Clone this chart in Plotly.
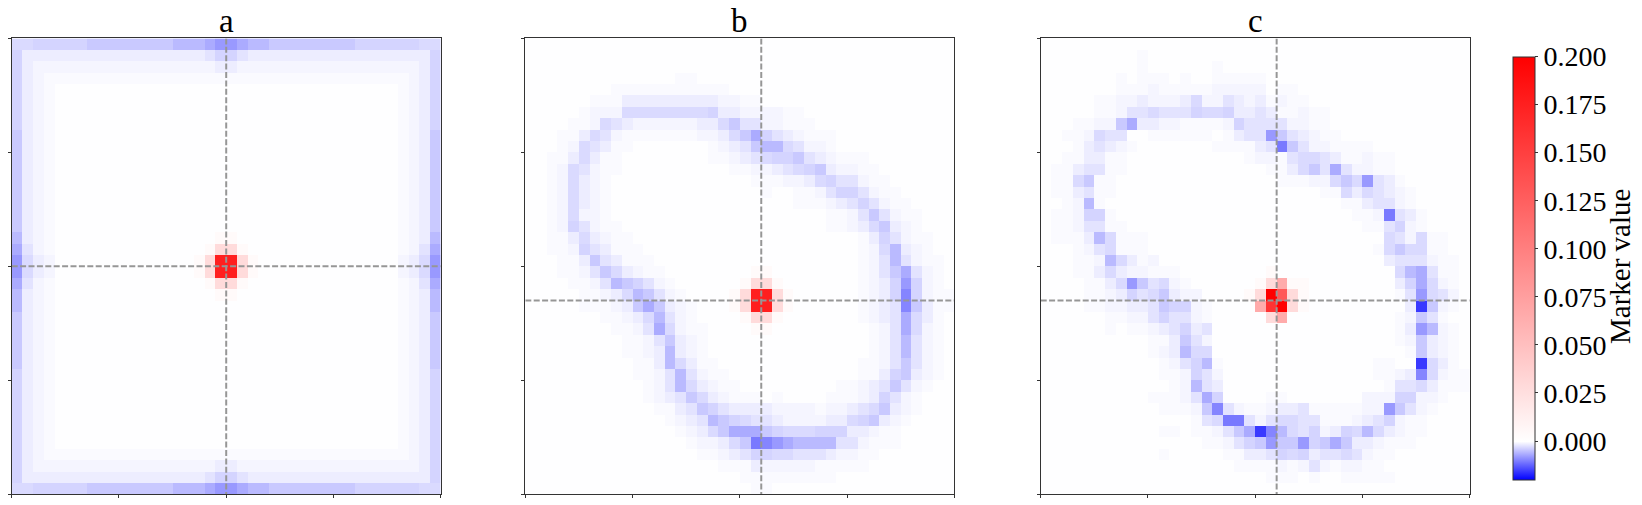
#!/usr/bin/env python

import plotly.graph_objects as go
from plotly.subplots import make_subplots

FONT = "Liberation Serif"
W, H = 1642, 505
N = 40

# marker value for each letter used in the grids below
LEVELS = {
    ".": -0.0001, "a": -0.0004, "b": -0.0008, "c": -0.0014, "d": -0.0022,
    "e": -0.0029, "f": -0.0034, "g": -0.0042, "h": -0.0054, "i": -0.0066,
    "j": -0.008, "k": -0.0096, "l": -0.0105, "m": -0.0155,
    "A": 0.004, "B": 0.028, "C": 0.066, "D": 0.13, "G": 0.16, "E": 0.176, "F": 0.2,
}

# one string per row, one letter per cell, spaces only group the columns by ten,
# missing cells at the end of a row are background
GRID_A = [
    "eefffffggg ggggghhhij jihhgggggg ggffffffee",
    "fccccccccc ccccccccdf fdcccccccc cccccccccf",
    "fcbbbbbbbb bbbbbbbbbc cbbbbbbbbb bbbbbbbbcf",
    "fcbaaaaaaa aaaaaaaaaa aaaaaaaaaa aaaaaaabcf",
    "fcba...... .......... .......... ......abcf",
    "fcba...... .......... .......... ......abcf",
    "fcba...... .......... .......... ......abcf",
    "fcba...... .......... .......... ......abcf",
    "gcba...... .......... .......... ......abcg",
    "gcba...... .......... .......... ......abcg",
    "gcba...... .......... .......... ......abcg",
    "gcba...... .......... .......... ......abcg",
    "gcba...... .......... .......... ......abcg",
    "gcba...... .......... .......... ......abcg",
    "gcba...... .......... .......... ......abcg",
    "gcba...... .......... .......... ......abcg",
    "gcba...... .......... .......... ......abcg",
    "hcba...... .........A A......... ......abch",
    "idba...... ........AB BA........ ......abdi",
    "jecb...... .......ABE EBA....... ......bcej",
    "jecb...... .......ABE EBA....... ......bcej",
    "idba...... ........AB BA........ ......abdi",
    "hcba...... .........A A......... ......abch",
    "hcba...... .......... .......... ......abch",
    "gcba...... .......... .......... ......abcg",
    "gcba...... .......... .......... ......abcg",
    "gcba...... .......... .......... ......abcg",
    "gcba...... .......... .......... ......abcg",
    "gcba...... .......... .......... ......abcg",
    "fcba...... .......... .......... ......abcf",
    "fcba...... .......... .......... ......abcf",
    "fcba...... .......... .......... ......abcf",
    "fcba...... .......... .......... ......abcf",
    "fcba...... .......... .......... ......abcf",
    "fcba...... .......... .......... ......abcf",
    "fcba...... .......... .......... ......abcf",
    "fcbaaaaaaa aaaaaaaaaa aaaaaaaaaa aaaaaaabcf",
    "fcbbbbbbbb bbbbbbbbbc cbbbbbbbbb bbbbbbbbcf",
    "fccccccccc ccccccccdf fdcccccccc cccccccccf",
    "eefffffggg ggggghhhij jihhgggggg ggffffffee",
]

GRID_B = [
    "",
    "",
    "",
    ".......... ....aa",
    "........aa aaaaaaaaa.",
    "......aaac ccccccccbb aa",
    ".....abbbe eeeeeeefcc bbbbaa",
    "....aabedc bbbbbbcceg ddbbaaa",
    "...aacedba aaaaaabbce gifdcbaaa",
    "...abedcaa .......abc dghhedbba",
    "..aacecaa. .......aab cdeffgdcba aa",
    "..abedbaa. .........a abbcdefgcb baa",
    "..abecba.. .......... .aaabbcefd dbaa",
    "..abecba.. .......... ..a..aabdf fdbaa",
    "..abecba.. .......... .....aaabc dfdbaa",
    "..abebba.. .......... ........aa bdgdbaa",
    "..abfdbaa. .......... ........aa bcegcba",
    "..aacecbaa .......... .......... .acfdbaa",
    "..aabfdcaa a......... .......... .abehcba",
    "...aacgdca aa........ .......... .abdhdbaa",
    "...aabdgec baa....... .AA....... .abdgidba",
    "....aabdhg fdba...... ABBA...... .abcfjfba",
    ".....aabce hgdba....A BEEBA..... .abcfkfbaa",
    ".....aaabc gigcba...A BEEBA..... .abcdkgcaa",
    ".......aab cehdba.... ABBA...... .abcdieca",
    "........aa bdiebaa... .AA....... ..abdieba",
    ".........a abdgcba... .......... ..abdhdba",
    ".........a abchcba... .......... ..abdhdba",
    ".......... aachecaa.. .......... .aabdgdba",
    ".......... aabdhdbaa. .......... .aacfgcba",
    ".......... .abdhecbaa .........a abcdgdba",
    ".......... .abcdgecba aa.a....aa abcfdba",
    ".......... ..aacdgfdc cccbbbbabb cdegcba",
    ".......... ...abcdhgf eddcbbbbcc efgcba",
    ".......... ....abcegi iigfeeefff ccbaa",
    ".......... .....abbce glkjihhhhd dbaaa",
    ".......... ......aabc dffeedddcb baa",
    ".......... ........aa acbbbbbaaa aa",
    ".......... .......... aaaaaaaaa",
    ".......... .......... .aa",
]

GRID_C = [
    "",
    ".........a",
    ".........a ......a",
    ".......a.a aa.a..aaaa a",
    ".......aaa baaaaabbbb b.aa",
    ".....aabbc bbbcebbdcb cabaa",
    ".....aabdd edddfeefcc dcaabaa",
    "...aabbgic cbbaaaabfd dddbbaa",
    "..aabedd.. aaaaaa.acd djgdcbaa",
    "...acdcba. ......aaaa cdlgdbbaaa a",
    "..aaccaa.. .........a bbadeedcaa baa",
    ".aacddaa.. .......... .aacegdidb baa",
    ".aaegaa... .......... ..aaabbege jdca",
    ".aacdaa... .......... ......aaec edcba",
    "..abha.... .......... ........aa cddba",
    ".aabffa... .......... .........a abldca",
    ".aabddaa.. .......... .......... aadfba",
    ".aaacheaaa .......... .......... ..edbeaa",
    "...abdeaaa .......... .......... .aegeeaa",
    "...aabheca b......... .......... ..cdddbaa",
    "...aacecbb aaa....... .A........ ...ehidaa",
    "....aacejg deba...... ABCAA..... ...cfieba",
    "....aabcfd egcbb....A BFDBA..... ...adjedb",
    "....aabbcc dgffba.... CGFBA..... ....cmgba",
    "......aabb dfddba.... .BC....... ...abgda",
    "......a.aa bcdfcd.... .......... ...acjhba",
    ".......... aacgdb.... .......... ...abgcba",
    ".......... abchee.... .......... ....agcba",
    ".......... .abdfha... .......... .aa..meca",
    ".......... .aabfdb... .......... .aabckebaa",
    ".......... ..abhdc... .......... ..addecaaa",
    ".......... aaabdif... .aa....... bbbffbba",
    ".......... .aaabgkdba abccdaaaaa bbjgdba",
    ".......... ....adelld bdeeddaaab cdfbaa",
    ".......... .aa.aabdgi mkhedfbcfe hecbaa",
    ".......... .....aabdf gjggjfgigc cbaaa",
    ".......... .a.....aac cdfefcdded baa",
    ".......... ........aa aababdbabb aa",
    ".......... .......... .aaa.a..aa aaa",
    "",
]

PANEL_TITLES = ["a", "b", "c"]
CROSS_X = [20, 22, 22]
CROSS_Y = [20, 23, 23]
AXIS_TICKS = [0, 10, 20, 30, 40]
CBAR_TICKS = [0.0, 0.025, 0.05, 0.075, 0.1, 0.125, 0.15, 0.175, 0.2]
ZMIN, ZMAX = -0.02, 0.2

# panel edges in window pixels
LEFTS = [11.7, 525.3, 1040.7]
WIDTH = 429.0
TOP, BOTTOM = 38.4, 494.3


def to_z(grid):
    z = []
    for row in grid:
        cells = row.replace(" ", "").ljust(N, ".")
        assert len(cells) == N, row
        z.append([LEVELS[c] for c in cells])
    return z


fig = make_subplots(rows=1, cols=3)

for i, grid in enumerate([GRID_A, GRID_B, GRID_C]):
    col = i + 1
    fig.add_trace(go.Heatmap(z=to_z(grid), x0=0.5, dx=1, y0=0.5, dy=1,
                             coloraxis="coloraxis"), row=1, col=col)
    # dashed cross through the marker centre
    fig.add_trace(go.Scatter(x=[0, N], y=[CROSS_Y[i], CROSS_Y[i]], mode="lines",
                             line=dict(color="#969696", width=2, dash="6px,2.4px"),
                             showlegend=False), row=1, col=col)
    fig.add_trace(go.Scatter(x=[CROSS_X[i], CROSS_X[i]], y=[0, N], mode="lines",
                             line=dict(color="#969696", width=2, dash="6px,2.4px"),
                             showlegend=False), row=1, col=col)
    fig.update_xaxes(domain=[LEFTS[i] / W, (LEFTS[i] + WIDTH) / W], range=[0, N],
                     row=1, col=col)
    fig.update_yaxes(domain=[1 - BOTTOM / H, 1 - TOP / H], range=[N, 0],
                     row=1, col=col)
    fig.add_annotation(text=PANEL_TITLES[i], showarrow=False,
                       xref="paper", x=(LEFTS[i] + WIDTH / 2) / W, xanchor="center",
                       yref="paper", y=1 - TOP / H, yanchor="bottom", yshift=-3,
                       font=dict(family=FONT, size=33, color="black"))

axis_style = dict(tickvals=AXIS_TICKS, showticklabels=False, ticks="outside", ticklen=3,
                  tickwidth=1, tickcolor="#333333", showline=True, linecolor="#333333",
                  linewidth=1, mirror=True, showgrid=False, zeroline=False)
fig.update_xaxes(**axis_style)
fig.update_yaxes(**axis_style)

# label of the colour bar reads upwards
fig.add_annotation(text="Marker value", showarrow=False, textangle=-90,
                   xref="paper", x=1620 / W, xanchor="center",
                   yref="paper", y=1 - 267 / H, yanchor="middle",
                   font=dict(family=FONT, size=29, color="black"))

fig.update_layout(
    width=W, height=H, margin=dict(l=0, r=0, t=0, b=0),
    paper_bgcolor="white", plot_bgcolor="white", showlegend=False,
    font=dict(family=FONT, color="black"),
    coloraxis=dict(
        cmin=ZMIN, cmax=ZMAX,
        colorscale=[[0, "#0000ff"], [-ZMIN / (ZMAX - ZMIN), "#ffffff"], [1, "#ff0000"]],
        colorbar=dict(x=1512.5 / W, xanchor="left", y=1 - 268 / H, yanchor="middle",
                      len=422.6 / H, lenmode="fraction", thickness=22, thicknessmode="pixels",
                      xpad=0, ypad=0, tickvals=CBAR_TICKS, tickformat=".3f",
                      ticks="outside", ticklen=3, tickwidth=1, tickcolor="#333333",
                      outlinecolor="#333333", outlinewidth=1,
                      tickfont=dict(family=FONT, size=28, color="black")),
    ),
)

# drop the page's default margin so the figure fills the window
fig.write_html("out.html", config={"displayModeBar": False},
               post_script="document.body.style.margin = '0';")
